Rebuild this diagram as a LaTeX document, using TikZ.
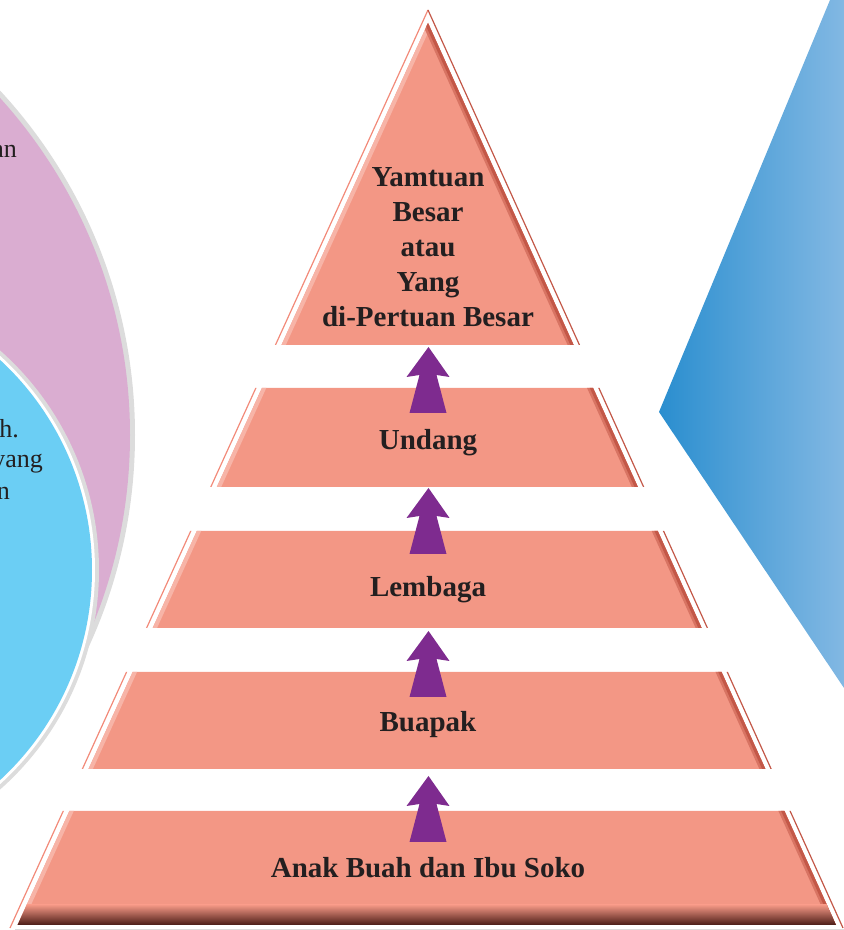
\documentclass[tikz,border=0pt]{standalone}
\usepackage{fontspec}
\setmainfont{Liberation Serif}
\definecolor{PYRsalmon}{HTML}{F39785}
\definecolor{PYRdark}{HTML}{C35848}
\definecolor{PYRlight}{HTML}{F7B4A7}
\definecolor{PYRline}{HTML}{F28A79}
\definecolor{PYRbrown}{HTML}{4A1C16}
\definecolor{PYRpurple}{HTML}{7E2B8F}
\definecolor{PYRpink}{HTML}{DAADD1}
\definecolor{PYRcyan}{HTML}{6BCEF4}
\definecolor{PYRring}{HTML}{DCDCDC}
\definecolor{PYRblueL}{HTML}{2A8ECF}
\definecolor{PYRblueR}{HTML}{82B8E3}
\definecolor{PYRtext}{HTML}{231F20}
\usetikzlibrary{calc, positioning}
\tikzset{
  tierlabel/.style={font=\bfseries\fontsize{29}{35}\selectfont, text=PYRtext, inner sep=0pt, align=center},
  sidetext/.style={font=\fontsize{26}{31}\selectfont, text=PYRtext, inner sep=0pt, anchor=base east},
  uparrow/.pic={\fill[PYRpurple] (0,0) -- (21,-30) -- (8,-28) -- (18,-66) -- (-19,-66) -- (-9,-28) -- (-22,-30) -- cycle;}
}
\begin{document}
\begin{tikzpicture}[x=1pt, y=1pt]
   \clip (0,0) rectangle (844,930);
   % circles on the left, cut by the page edge
   \fill[PYRring] (-372,495) circle[radius=507pt];
   \fill[PYRpink] (-372,495) circle[radius=502pt];
   \fill[PYRring] (-194,360) circle[radius=293pt];
   \fill[white] (-194,360) circle[radius=289pt];
   \fill[PYRcyan] (-194,360) circle[radius=286pt];
   \node[sidetext] (an) at (17,772) {an};
   \node[sidetext] (h) at (19,492) {h.};
   \node[sidetext] (yang) at (43,462) {yang};
   \node[sidetext] (n) at (10,430) {n};
   % blue wedge on the right
   \shade[left color=PYRblueL, right color=PYRblueR] (830,930) -- (844,930) -- (844,242) -- (659,518) -- cycle;
   % pyramid, cut into five tiers
   \coordinate (apex) at (428,920);
   \begin{scope}
      \clip (0,585) rectangle (844,930) (0,443) rectangle (844,542) (0,302) rectangle (844,399)
            (0,161) rectangle (844,258) (0,0) rectangle (844,119);
      \draw[PYRline, line width=1.2pt] (apex) -- (10,2);
      \draw[PYRdark, line width=1.2pt] (apex) -- (843,2);
      \fill[PYRsalmon] (428,907) -- (836,5) -- (17.5,5) -- cycle;
      \begin{scope}
         \clip (428,907) -- (836,5) -- (17.5,5) -- cycle;
         \draw[PYRlight, line width=8pt] (428,907) -- (17.5,5);
         \draw[PYRdark!55!PYRsalmon, line width=11pt] (428,907) -- (836,5);
         \draw[PYRdark, line width=6pt] (428,907) -- (836,5);
         \shade[top color=PYRsalmon, middle color=PYRbrown!55!PYRsalmon, bottom color=PYRbrown] (0,5) rectangle (844,25);
      \end{scope}
   \end{scope}
   \draw[PYRring] (15,0.5) -- (844,0.5);
   % arrows between the tiers
   \coordinate (tip1) at (428.5,583);
   \coordinate (tip2) at (428.5,442);
   \coordinate (tip3) at (428.5,299);
   \coordinate (tip4) at (428.5,154);
   \foreach \t in {tip1,tip2,tip3,tip4} \pic at (\t) {uparrow};
   % tier labels
   \node[tierlabel] (yamtuan) at (428,683) {Yamtuan\\Besar\\atau\\Yang\\di-Pertuan Besar};
   \node[tierlabel, anchor=base] (undang) at (428,480) {Undang};
   \node[tierlabel, anchor=base] (lembaga) at (428,333) {Lembaga};
   \node[tierlabel, anchor=base] (buapak) at (428,198) {Buapak};
   \node[tierlabel, anchor=base] (anak) at (428,52) {Anak Buah dan Ibu Soko};
\end{tikzpicture}
\end{document}
